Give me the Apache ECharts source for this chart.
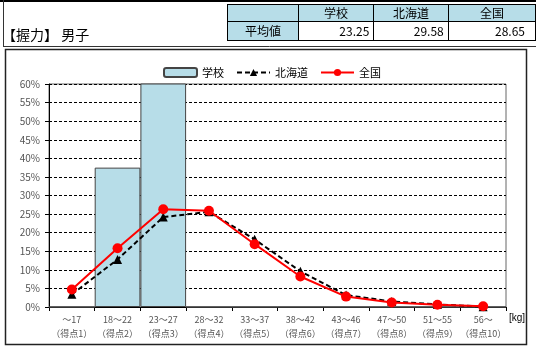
<!DOCTYPE html>
<html>
<head>
<meta charset="utf-8">
<script src="https://cdn.jsdelivr.net/npm/echarts@6/dist/echarts.min.js"></script>
<style>
  html, body { margin: 0; padding: 0; width: 536px; height: 347px; overflow: hidden; background: #fff; }
  body { font-family: "Noto Sans CJK JP", sans-serif; position: relative; }
  #chart { position: absolute; left: 0; top: 0; width: 536px; height: 347px; }
  #title { position: absolute; left: 2px; top: 24px; font-size: 14px; color: #000; z-index: 2; }
  #tbl { position: absolute; left: 227px; top: 4px; border-collapse: collapse; font-size: 12px; z-index: 2; }
  #tbl td { height: 16px; padding: 0 4px; border: 1px solid #000; line-height: 16px; }
  #tbl td.h { background: #b7dde8; text-align: center; }
  #tbl td.v { background: #fff; text-align: right; height: 18px; }
  #tbl td.d { border-left: 1px dotted #666; }
</style>
</head>
<body>
<div id="chart"></div>
<div id="title">【握力】 男子</div>
<table id="tbl">
  <tr><td class="h" style="width:64px"></td><td class="h" style="width:68px">学校</td><td class="h d" style="width:67px">北海道</td><td class="h d" style="width:80px">全国</td></tr>
  <tr><td class="h">平均値</td><td class="v">23.25</td><td class="v d">29.58</td><td class="v d" style="padding-right:10px">28.65</td></tr>
</table>
<script>
// 階級（kg）と得点
var categories = ['～17', '18～22', '23～27', '28～32', '33～37', '38～42', '43～46', '47～50', '51～55', '56～'];
var points = ['（得点1）', '（得点2）', '（得点3）', '（得点4）', '（得点5）', '（得点6）', '（得点7）', '（得点8）', '（得点9）', '（得点10）'];
// 割合（%）
var school = [0, 37.5, 62.5, 0, 0, 0, 0, 0, 0, 0];
var hokkaido = [3.4, 12.8, 24.2, 25.6, 18.2, 9.6, 3.2, 1.5, 0.7, 0.1];
var national = [4.7, 15.8, 26.3, 25.9, 16.9, 8.2, 2.8, 1.2, 0.6, 0.2];

var myChart = echarts.init(document.getElementById('chart'));
var option = {
  animation: false,
  textStyle: { fontFamily: '"Noto Sans CJK JP", sans-serif' },
  graphic: [
    { type: 'rect', shape: { x: 0, y: 0, width: 536, height: 2 }, style: { fill: '#000' } },
    { type: 'line', shape: { x1: 3.5, y1: 0, x2: 3.5, y2: 47 }, style: { stroke: '#333', lineWidth: 1 } },
    { type: 'line', shape: { x1: 3, y1: 46.5, x2: 536, y2: 46.5 }, style: { stroke: '#333', lineWidth: 1 } },
    { type: 'rect', shape: { x: 5.5, y: 49.5, width: 521, height: 295 }, style: { fill: 'none', stroke: '#222', lineWidth: 1.5 } },
    { type: 'text', left: 509, top: 313, style: { text: '[kg]', fontSize: 10, fill: '#000' } }
  ],
  legend: {
    left: 158,
    top: 62,
    itemWidth: 33,
    itemHeight: 9,
    itemGap: 12,
    textStyle: { fontSize: 11, color: '#000' },
    data: ['学校', '北海道', '全国']
  },
  grid: { left: 49, right: 30, top: 84, bottom: 40, show: true, borderColor: '#666', borderWidth: 1 },
  xAxis: {
    type: 'category',
    data: categories,
    axisLine: { lineStyle: { color: '#000' } },
    axisTick: { show: true, length: 4, lineStyle: { color: '#000' } },
    axisLabel: {
      interval: 0,
      fontSize: 9,
      color: '#555',
      lineHeight: 14,
      margin: 6,
      formatter: function (v, i) { return v + '\n' + points[i]; }
    }
  },
  yAxis: {
    type: 'value',
    min: 0,
    max: 60,
    interval: 5,
    axisLine: { show: true, lineStyle: { color: '#000' } },
    axisTick: { show: true, length: 4, lineStyle: { color: '#000' } },
    axisLabel: { formatter: '{value}%', fontSize: 10, color: '#555', margin: 9 },
    splitLine: { lineStyle: { color: '#000', type: [3, 2], width: 1 } }
  },
  series: [
    {
      name: '学校',
      type: 'bar',
      data: school,
      barWidth: '100%',
      clip: true,
      itemStyle: { color: '#b7dde8', borderColor: '#444', borderWidth: 1 }
    },
    {
      name: '北海道',
      type: 'line',
      data: hokkaido,
      symbol: 'triangle',
      symbolSize: 9,
      lineStyle: { color: '#000', width: 2, type: [5, 3] },
      itemStyle: { color: '#000' }
    },
    {
      name: '全国',
      type: 'line',
      data: national,
      symbol: 'circle',
      symbolSize: 10,
      lineStyle: { color: '#f00', width: 2 },
      itemStyle: { color: '#f00' }
    }
  ]
};
myChart.setOption(option);
window.onresize = myChart.resize;
</script>
</body>
</html>
